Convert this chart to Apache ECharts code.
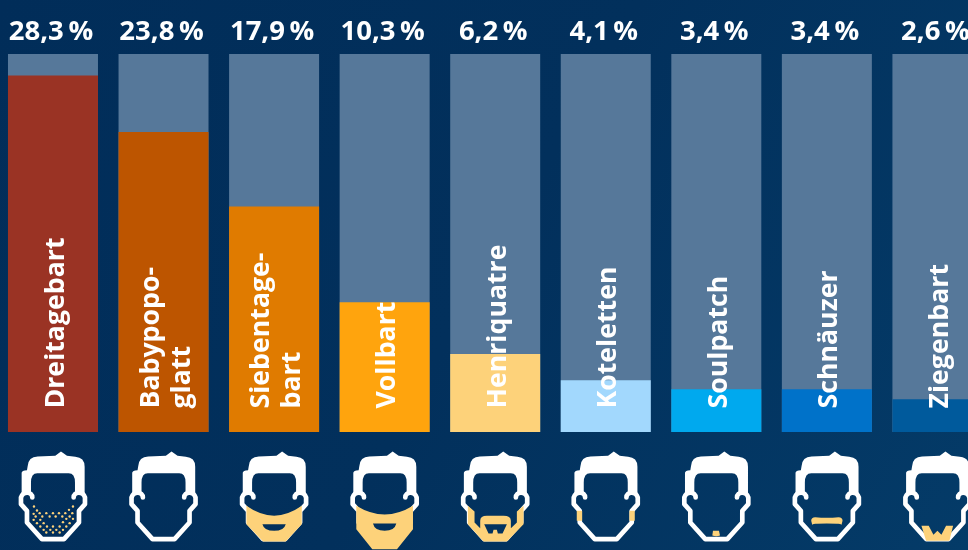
<!DOCTYPE html>
<html><head><meta charset="utf-8">
<style>html,body{margin:0;padding:0;background:#02305c}#c{width:968px;height:550px}</style>
<script src="https://cdn.jsdelivr.net/npm/echarts@6/dist/echarts.min.js"></script></head>
<body><div id="c"></div>
<script>
const categories=['Dreitagebart','Babypopo-\nglatt','Siebentage-\nbart','Vollbart','Henriquatre','Koteletten','Soulpatch','Schnäuzer','Ziegenbart'];
const shares=[28.3,23.8,17.9,10.3,6.2,4.1,3.4,3.4,2.6];
const barColors=['#9a3324','#bd5500','#e07b00','#ffa40d','#fdd27a','#a2d8fd','#00a9ee','#0072c9','#005a9c'];
const hair='M-94 128L-94 64Q-94 57-78 56L-76 44Q-74 16-46 15L7 13L24 0L42 13L67 16Q95 18 95 46L95 128L66 128L66 93Q66 65 47 65L-47 65Q-66 65-66 93L-66 128Z';
const face='M-62 138C-62 120-90 118-96 138L-96 158L-78 178L-78 213L-33 263L33 263L78 213L78 178L96 158L96 138C90 118 62 120 62 138';
const beardPaths=[
 '',
 '',
 'M-83 163Q0 222 83 163L83 218L35 270L-33 270L-83 218ZM35 218L-35 218Q-30 238 0 238Q30 238 35 218Z',
 'M-85 163Q0 215 85 163L85 233L37 293L-37 293L-85 233ZM35 216L-35 216Q-30 238 0 238Q30 238 35 216Z',
 'M-82 163L-82 218L-35 270L35 270L85 218L85 163L65 180L65 213L47 230L47 208Q47 193 25 193L-25 193Q-45 193-45 208L-45 230L-62 213L-62 180ZM35 218L22 246L8 246L5 235L-5 235L-8 246L-20 246L-33 218Z',
 'M-87 178L-71 178L-71 208L-87 208ZM71 178L87 178L87 208L71 208Z',
 'M-10 238L8 238L11 252Q0 256-12 252Z',
 'M-47 208Q-47 197-35 197Q0 201 35 197Q47 197 47 208L44 220Q40 216 30 217Q0 215-30 217Q-40 216-44 220Z',
 'M-48 223L-26 223L-12 250L0 238L12 250L26 223L47 223L36 268L-34 268Z'
];
const stubbleDots=[[-57,165],[60,165],[48,175],[-48,177],[-58,187],[-40,185],[-20,185],[0,185],[18,185],[37,185],[58,185],[-52,195],[-32,195],[-10,195],[8,195],[28,195],[50,195],[-58,205],[-38,205],[40,202],[60,202],[-48,215],[-28,215],[30,212],[50,215],[-38,225],[-18,225],[0,225],[20,225],[40,225],[-28,235],[-8,235],[10,235],[30,235],[-20,243],[0,243],[20,243]];
const chart=echarts.init(document.getElementById('c'),null,{renderer:'canvas'});
const faceIndex=categories.map((_,i)=>i);
chart.setOption({
 animation:false,
 backgroundColor:{type:'linear',x:0,y:0,x2:1,y2:1,colorStops:[{offset:0,color:'#012d59'},{offset:0.5,color:'#02305c'},{offset:1,color:'#043b68'}]},
 grid:{left:-2.3,top:54,width:995,height:378,outerBoundsMode:'none'},
 xAxis:[
  {type:'category',data:categories,position:'bottom',axisLine:{show:false},axisTick:{show:false},axisLabel:{show:false}},
  {type:'category',data:shares.map(v=>v.toFixed(1).replace('.',',')+'\u2009%'),position:'top',axisLine:{show:false},axisTick:{show:false},
   axisLabel:{show:true,interval:0,color:'#fff',fontFamily:'Open Sans',fontWeight:'bold',fontSize:27.5,margin:8,padding:[0,4,0,0],showMinLabel:true,showMaxLabel:true,hideOverlap:false}}
 ],
 yAxis:{type:'value',min:0,max:30,show:false},
 series:[
  {type:'bar',data:shares.map((v,i)=>({value:v,itemStyle:{color:barColors[i]}})),barWidth:90,
   showBackground:true,backgroundStyle:{color:'#56789a'},
   label:{show:true,position:'insideBottom',distance:24,rotate:90,align:'left',verticalAlign:'middle',offset:[-0.5,3],
    formatter:p=>categories[p.dataIndex],color:'#fff',fontFamily:'Open Sans',fontWeight:'bold',fontSize:26.7,lineHeight:31}},
  {type:'custom',data:faceIndex,clip:false,silent:true,encode:{x:0},
   renderItem:(params,api)=>{
    const i=api.value(0);
    const p=api.coord([i,0]);
    const kids=[
     {type:'path',shape:{pathData:hair},style:{fill:'#fff'}},
     {type:'path',shape:{pathData:face},style:{fill:'none',stroke:'#fff',lineWidth:14,lineJoin:'round',lineCap:'round'}}
    ];
    if(beardPaths[i])kids.push({type:'path',shape:{pathData:beardPaths[i]},style:{fill:'#fdd27a'}});
    if(i===0)stubbleDots.forEach(d=>kids.push({type:'circle',shape:{cx:d[0],cy:d[1],r:3.6},style:{fill:'#fdd27a'}}));
    return {type:'group',x:p[0],y:p[1]+19.5,scaleX:1/3,scaleY:1/3,children:kids};
   }}
 ]
});
</script></body></html>
